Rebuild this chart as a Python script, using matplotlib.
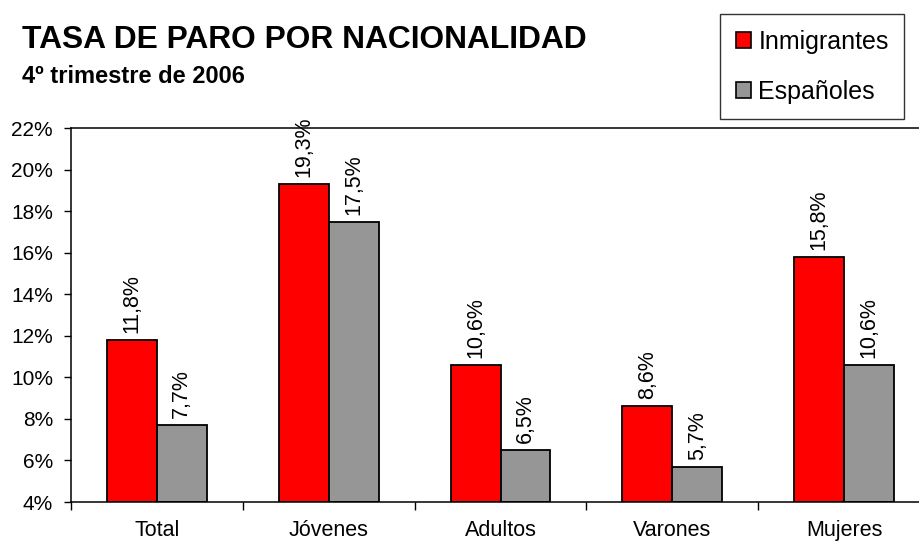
import matplotlib
matplotlib.use("Agg")
import matplotlib.pyplot as plt
from matplotlib.patches import Patch
import numpy as np

plt.rcParams['font.family'] = ['Liberation Sans', 'DejaVu Sans']

categories = ["Total", "Jóvenes", "Adultos", "Varones", "Mujeres"]
inmigrantes = [11.8, 19.3, 10.6, 8.6, 15.8]
espanoles = [7.7, 17.5, 6.5, 5.7, 10.6]
series_names = ["Inmigrantes", "Españoles"]
yticks = [4, 6, 8, 10, 12, 14, 16, 18, 20, 22]

red = "#FF0000"
gray = "#969696"

fig = plt.figure(figsize=(9.19, 5.43), dpi=100)
ax = fig.add_axes([71/919, 41/543, 859/919, 374/543])

x = np.arange(len(categories))
w = 0.29
ax.bar(x - w/2, [v - 4 for v in inmigrantes], w, bottom=4, color=red, edgecolor="black", linewidth=1.3)
ax.bar(x + w/2, [v - 4 for v in espanoles], w, bottom=4, color=gray, edgecolor="black", linewidth=1.3)

for xs, vals in ((x - w/2, inmigrantes), (x + w/2, espanoles)):
    for xi, v in zip(xs, vals):
        ax.annotate(f"{v:.1f}%".replace(".", ","), (xi, v), xytext=(0, 5), textcoords="offset points",
                    rotation=90, ha="center", va="bottom", fontsize=15.5)

ax.set_xlim(-0.5, len(categories) - 0.5)
ax.set_ylim(4, 22)
ax.set_yticks(yticks)
ax.set_yticklabels([f"{t}%" for t in yticks], fontsize=15)
ax.set_xticks(x)
ax.set_xticklabels(categories, fontsize=15.5)
ax.set_xticks(np.arange(len(categories) + 1) - 0.5, minor=True)
ax.tick_params(axis="x", which="major", length=0, pad=13)
ax.tick_params(axis="x", which="minor", length=6, direction="out", width=1)
ax.tick_params(axis="y", length=5, direction="out", width=1, pad=8)
ax.spines["right"].set_visible(False)
for s in ("left", "bottom", "top"):
    ax.spines[s].set_linewidth(1.1)

fig.text(22/919, 1 - 48/543, "TASA DE PARO POR NACIONALIDAD", fontsize=22.9, fontweight="bold", va="baseline")
fig.text(22/919, 1 - 83/543, "4º trimestre de 2006", fontsize=17, fontweight="bold", va="baseline")

handles = [Patch(facecolor=red, edgecolor="black", linewidth=1.2),
           Patch(facecolor=gray, edgecolor="black", linewidth=1.2)]
leg = fig.legend(handles, series_names, loc="upper left", bbox_to_anchor=(720/919, 1 - 14/543),
                 fontsize=18, frameon=True, fancybox=False, edgecolor="black",
                 handlelength=0.62, handleheight=0.62, handletextpad=0.3, labelspacing=1.05,
                 borderpad=0.62, borderaxespad=0)
leg.get_frame().set_linewidth(1.0)

fig.savefig("out.png", dpi=100)
